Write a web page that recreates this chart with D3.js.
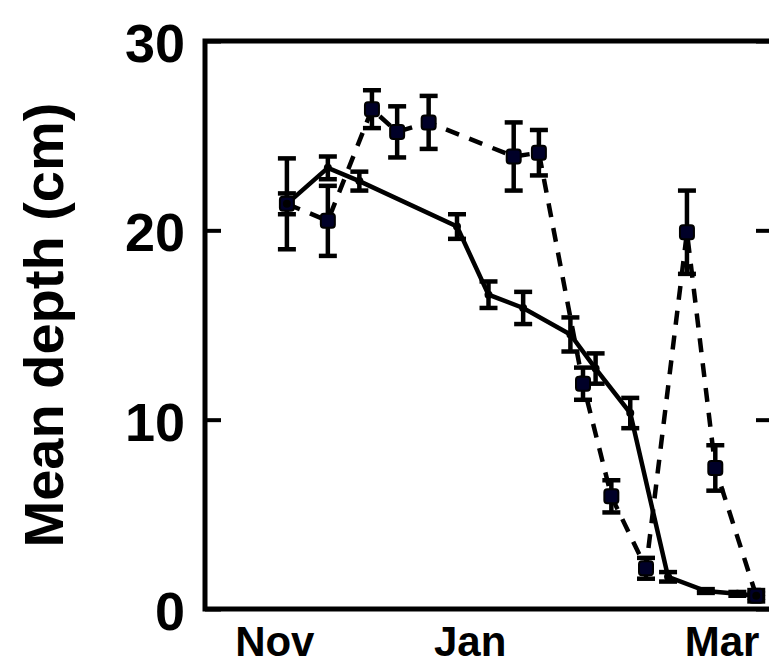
<!DOCTYPE html>
<html>
<head>
<meta charset="utf-8">
<script src="https://cdn.jsdelivr.net/npm/d3@7"></script>
<style>
  html, body { margin: 0; padding: 0; background: #fff; }
  svg text { font-family: "Liberation Sans", Arial, Helvetica, sans-serif; font-weight: bold; }
</style>
</head>
<body>
<div id="chart"></div>
<script>
// day of season (x), mean depth in cm (y), standard error (e)
var dashedDays = [26, 39, 53, 61, 71, 98, 106, 120, 129, 140, 153, 162, 175];
var dashedDepth = [21.4, 20.5, 26.4, 25.2, 25.7, 23.9, 24.1, 11.9, 5.95, 2.15, 19.9, 7.45, 0.7];
var dashedErr = [2.4, 1.85, 1.0, 1.35, 1.4, 1.8, 1.2, 0.85, 0.85, 0.55, 2.2, 1.2, 0.3];

var solidDays = [26, 39, 49, 80, 90, 101, 116, 124, 135, 147, 159, 169, 175];
var solidDepth = [21.4, 23.3, 22.6, 20.2, 16.6, 15.9, 14.5, 12.7, 10.35, 1.7, 0.95, 0.8, 0.7];
var solidErr = [0.55, 0.6, 0.5, 0.65, 0.7, 0.85, 0.9, 0.8, 0.8, 0.25, 0.1, 0.1, 0.1];

var monthDays = [22, 84, 164];
var monthLabels = ["Nov", "Jan", "Mar"];
var depthTicks = [0, 10, 20, 30];

(function () {
  var W = 769, H = 665;
  var L = 205, R = 772, T = 41, B = 609;

  var svg = d3.select("#chart").append("svg")
    .attr("width", W).attr("height", H);

  var x = d3.scaleLinear().domain([0, 180]).range([L, R]);
  var y = d3.scaleLinear().domain([0, 30]).range([B, T]);

  var dashed = dashedDays.map(function (d, i) {
    return { x: d, y: dashedDepth[i], e: dashedErr[i] };
  });
  var solid = solidDays.map(function (d, i) {
    return { x: d, y: solidDepth[i], e: solidErr[i] };
  });

  // axes: ticks point inward, labels outside
  var yAxis = svg.append("g").attr("transform", "translate(" + L + ",0)")
    .call(d3.axisLeft(y).tickValues(depthTicks).tickSize(-16).tickPadding(20));
  yAxis.select(".domain").remove();
  yAxis.selectAll("line").attr("stroke", "#000").attr("stroke-width", 4);
  yAxis.selectAll("text").attr("font-size", 54).attr("fill", "#000")
    .attr("dy", "0.38em");

  var yRight = svg.append("g").attr("transform", "translate(" + R + ",0)")
    .call(d3.axisRight(y).tickValues(depthTicks).tickSize(-16).tickFormat(""));
  yRight.select(".domain").remove();
  yRight.selectAll("line").attr("stroke", "#000").attr("stroke-width", 4);

  var xAxis = svg.append("g").attr("transform", "translate(0," + B + ")")
    .call(d3.axisBottom(x).tickValues(monthDays).tickSize(0).tickPadding(17)
      .tickFormat(function (d, i) { return monthLabels[i]; }));
  xAxis.select(".domain").remove();
  xAxis.selectAll("text").attr("font-size", 42).attr("fill", "#000");

  // frame
  svg.append("rect")
    .attr("x", L).attr("y", T).attr("width", R - L).attr("height", B - T)
    .attr("fill", "none").attr("stroke", "#000").attr("stroke-width", 5);

  svg.append("text")
    .attr("transform", "translate(63," + (T + B) / 2 + ") rotate(-90)")
    .attr("text-anchor", "middle")
    .attr("font-size", 56)
    .text("Mean depth (cm)");

  var line = d3.line().x(function (d) { return x(d.x); })
                      .y(function (d) { return y(d.y); });

  function errorBars(data) {
    var g = svg.append("g").attr("stroke", "#000").attr("stroke-width", 4.5);
    g.selectAll("line.v").data(data).join("line").attr("class", "v")
      .attr("x1", function (d) { return x(d.x); })
      .attr("x2", function (d) { return x(d.x); })
      .attr("y1", function (d) { return y(d.y - d.e); })
      .attr("y2", function (d) { return y(d.y + d.e); });
    [-1, 1].forEach(function (s) {
      g.selectAll("line.c" + (s + 1)).data(data).join("line")
        .attr("class", "c" + (s + 1))
        .attr("x1", function (d) { return x(d.x) - 9; })
        .attr("x2", function (d) { return x(d.x) + 9; })
        .attr("y1", function (d) { return y(d.y + s * d.e); })
        .attr("y2", function (d) { return y(d.y + s * d.e); });
    });
  }

  errorBars(dashed);
  errorBars(solid);

  svg.append("path").datum(dashed).attr("d", line)
    .attr("fill", "none").attr("stroke", "#000").attr("stroke-width", 4.5)
    .attr("stroke-dasharray", "14,11");
  svg.append("path").datum(solid).attr("d", line)
    .attr("fill", "none").attr("stroke", "#000").attr("stroke-width", 4.5);

  svg.append("g").selectAll("rect").data(dashed).join("rect")
    .attr("x", function (d) { return x(d.x) - 7; })
    .attr("y", function (d) { return y(d.y) - 7; })
    .attr("width", 14).attr("height", 14).attr("rx", 3)
    .attr("fill", "#000028").attr("stroke", "#000").attr("stroke-width", 2);

  svg.append("g").selectAll("circle").data(solid).join("circle")
    .attr("cx", function (d) { return x(d.x); })
    .attr("cy", function (d) { return y(d.y); })
    .attr("r", 4).attr("fill", "#000");
})();
</script>
</body>
</html>
